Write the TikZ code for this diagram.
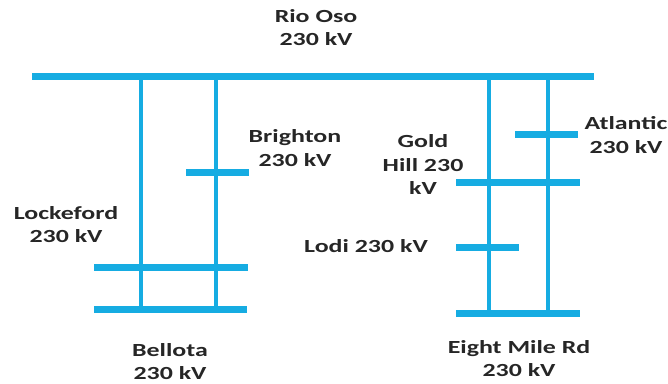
\documentclass[tikz,border=0pt]{standalone}
\usepackage{fontspec}
\setmainfont{Carlito}[FakeStretch=1.4]
\definecolor{busblue}{RGB}{22,172,226}
\begin{document}
\begin{tikzpicture}[x=1pt,y=-1pt,
  bus/.style={line width=7pt,draw=busblue},
  tie/.style={line width=4.5pt,draw=busblue},
  lbl/.style={font=\fontsize{18.5}{23.5}\selectfont\bfseries,align=center,inner sep=0pt,text=black!85}]
\useasboundingbox (0,0) rectangle (668,383);
% bus end points
\coordinate (rioL) at (32,76.5);   \coordinate (rioR) at (594,76.5);
\coordinate (briL) at (186,172);   \coordinate (briR) at (249,172);
\coordinate (lokL) at (94,267.5);  \coordinate (lokR) at (248,267.5);
\coordinate (belL) at (94,309);    \coordinate (belR) at (247,309);
\coordinate (atlL) at (515,134.5); \coordinate (atlR) at (578,134.5);
\coordinate (ghL) at (456,182);    \coordinate (ghR) at (580,182);
\coordinate (lodL) at (456,247);   \coordinate (lodR) at (519,247);
\coordinate (emL) at (456,313);    \coordinate (emR) at (580,313);
% tie end points
\coordinate (t1a) at (141,76.5); \coordinate (t1b) at (141,309);
\coordinate (t2a) at (216,76.5); \coordinate (t2b) at (216,309);
\coordinate (t3a) at (489,76.5); \coordinate (t3b) at (489,313);
\coordinate (t4a) at (548,76.5); \coordinate (t4b) at (548,313);
% ties
\draw[tie] (t1a) -- (t1b);
\draw[tie] (t2a) -- (t2b);
\draw[tie] (t3a) -- (t3b);
\draw[tie] (t4a) -- (t4b);
% buses
\draw[bus] (rioL) -- (rioR);
\draw[bus] (briL) -- (briR);
\draw[bus] (lokL) -- (lokR);
\draw[bus] (belL) -- (belR);
\draw[bus] (atlL) -- (atlR);
\draw[bus] (ghL) -- (ghR);
\draw[bus] (lodL) -- (lodR);
\draw[bus] (emL) -- (emR);
% labels
\node[lbl] (rio) at (316,27.5) {Rio Oso\\230 kV};
\node[lbl] (bri) at (295,148) {Brighton\\230 kV};
\node[lbl] (gh) at (423,165) {Gold\\Hill 230\\kV};
\node[lbl] (atl) at (626,135) {Atlantic\\230 kV};
\node[lbl] (lok) at (66,224.5) {Lockeford\\230 kV};
\node[lbl] (lod) at (366,246) {Lodi 230 kV};
\node[lbl] (bel) at (170,361.5) {Bellota\\230 kV};
\node[lbl] (em) at (519,358.5) {Eight Mile Rd\\230 kV};
\end{tikzpicture}
\end{document}
